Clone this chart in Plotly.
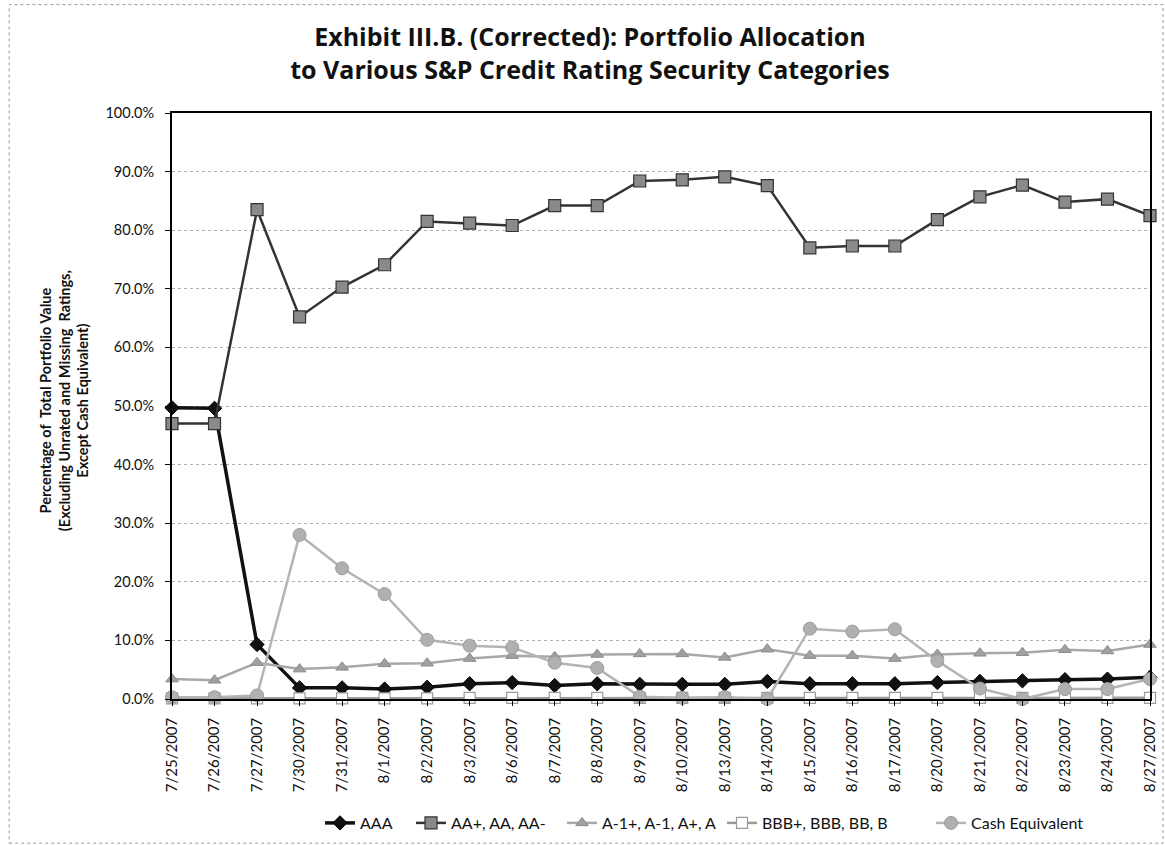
import plotly.graph_objects as go

dates = ["7/25/2007", "7/26/2007", "7/27/2007", "7/30/2007", "7/31/2007", "8/1/2007",
         "8/2/2007", "8/3/2007", "8/6/2007", "8/7/2007", "8/8/2007", "8/9/2007",
         "8/10/2007", "8/13/2007", "8/14/2007", "8/15/2007", "8/16/2007", "8/17/2007",
         "8/20/2007", "8/21/2007", "8/22/2007", "8/23/2007", "8/24/2007", "8/27/2007"]

aaa = [49.7, 49.6, 9.3, 1.9, 1.9, 1.7, 2.0, 2.6, 2.8, 2.3, 2.6, 2.5,
       2.5, 2.5, 3.0, 2.6, 2.6, 2.6, 2.8, 3.0, 3.1, 3.3, 3.4, 3.7]
aa = [47.0, 47.0, 83.5, 65.2, 70.3, 74.1, 81.5, 81.2, 80.8, 84.2, 84.2, 88.4,
      88.6, 89.1, 87.6, 77.0, 77.3, 77.3, 81.8, 85.7, 87.7, 84.8, 85.3, 82.5]
a1 = [3.4, 3.2, 6.2, 5.1, 5.4, 6.0, 6.1, 6.9, 7.4, 7.2, 7.6, 7.7,
      7.7, 7.1, 8.5, 7.4, 7.4, 6.9, 7.6, 7.8, 7.9, 8.4, 8.2, 9.3]
bbb = [0.1, 0.1, 0.1, 0.1, 0.1, 0.1, 0.1, 0.2, 0.2, 0.2, 0.2, 0.2,
       0.2, 0.2, 0.2, 0.2, 0.2, 0.2, 0.2, 0.2, 0.2, 0.2, 0.2, 0.2]
cash = [0.3, 0.3, 0.6, 28.0, 22.3, 17.9, 10.1, 9.1, 8.8, 6.2, 5.3, 0.4,
        0.2, 0.3, 0.0, 12.0, 11.5, 11.9, 6.5, 1.8, 0.0, 1.7, 1.7, 3.4]

series_names = ["AAA", "AA+, AA, AA-", "A-1+, A-1, A+, A", "BBB+, BBB, BB, B", "Cash Equivalent"]
y_ticks = [0, 10, 20, 30, 40, 50, 60, 70, 80, 90, 100]
y_tick_text = [f"{v:.1f}%" for v in y_ticks]

FONT = "Lato"
NB = "\u00a0"

# plot-area geometry (pixels) used to place legend entries
L, R, T, B = 172, 15, 113, 146
PW = 1165 - L - R
PH = 845 - T - B
legend_px = [320, 411, 562, 722, 931]   # left edge of each legend entry
legend_top_px = 806

styles = [
    dict(line=dict(color="#111111", width=3.5),
         marker=dict(symbol="diamond", size=11, color="#111111", line=dict(color="#000000", width=1))),
    dict(line=dict(color="#333333", width=2.5),
         marker=dict(symbol="square", size=12, color="#8a8a8a", line=dict(color="#333333", width=1.2))),
    dict(line=dict(color="#a8a8a8", width=2.5),
         marker=dict(symbol="triangle-up", size=11, color="#a0a0a0", line=dict(color="#8c8c8c", width=1))),
    dict(line=dict(color="#9a9a9a", width=2.5),
         marker=dict(symbol="square", size=11, color="#ffffff", line=dict(color="#9a9a9a", width=1.2))),
    dict(line=dict(color="#b4b4b4", width=2.5),
         marker=dict(symbol="circle", size=13, color="#b0b0b0", line=dict(color="#9c9c9c", width=1))),
]
series = [aaa, aa, a1, bbb, cash]

fig = go.Figure()
legend_layout = {}
for i, (name, vals, st) in enumerate(zip(series_names, series, styles)):
    key = "legend" if i == 0 else f"legend{i + 1}"
    fig.add_trace(go.Scatter(
        x=dates, y=vals, name=name, mode="lines+markers",
        line=st["line"], marker=st["marker"], cliponaxis=False,
        legend=key))
    legend_layout[key] = dict(
        orientation="h", xref="paper", yref="paper",
        x=(legend_px[i] - L) / PW, xanchor="left",
        y=(845 - B - legend_top_px) / PH, yanchor="top",
        font=dict(family=FONT, size=16, color="#111111"),
        itemwidth=30, bgcolor="rgba(0,0,0,0)")

fig.update_layout(
    width=1165, height=845,
    margin=dict(l=L, r=R, t=T, b=B, autoexpand=False),
    paper_bgcolor="white", plot_bgcolor="white",
    font=dict(family=FONT, color="#111111", size=14),
    title=dict(
        text="<b>Exhibit III.B. (Corrected): Portfolio Allocation<br>to Various S&P Credit Rating Security Categories</b>",
        x=0.5064, xanchor="center", y=0.945, yanchor="top",
        font=dict(family="Open Sans", size=25, color="#111111")),
    showlegend=True,
    xaxis=dict(
        type="category", range=[0, len(dates) - 1],
        tickangle=-90, tickfont=dict(family=FONT, size=15),
        showgrid=False, showline=True, linecolor="#000000", linewidth=1.5,
        mirror=True, ticks="outside", ticklen=5, tickcolor="#000000",
        ticklabelstandoff=6, automargin=False),
    yaxis=dict(
        range=[0, 100], tickvals=y_ticks, ticktext=y_tick_text,
        tickfont=dict(family=FONT, size=14.5),
        showgrid=True, gridcolor="#b0b0b0", griddash="dot", gridwidth=1,
        showline=True, linecolor="#000000", linewidth=2, mirror=True,
        ticks="outside", ticklen=5, tickcolor="#000000",
        ticklabelstandoff=8, automargin=False,
        zeroline=False),
    **legend_layout,
)

# Y-axis title as rotated annotation
fig.add_annotation(
    text=f"<b>Percentage of{NB} Total Portfolio Value<br>(Excluding Unrated and Missing{NB} Ratings,<br>Except Cash Equivalent)</b>",
    xref="paper", yref="paper", x=-0.11, y=0.509, xanchor="center", yanchor="middle",
    textangle=-90, showarrow=False, align="center",
    font=dict(family=FONT, size=14.5, color="#111111"))

# Thin outer frame around the whole chart image
fig.add_shape(type="rect", xref="paper", yref="paper",
              x0=-0.1665, x1=1.0133, y0=-0.246, y1=1.185,
              line=dict(color="#9a9a9a", width=1, dash="dot"), layer="below")

fig.write_html("out.html")
